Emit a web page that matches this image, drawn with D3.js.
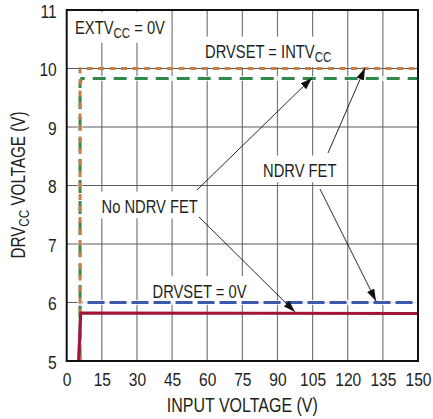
<!DOCTYPE html>
<html><head><meta charset="utf-8">
<script src="https://cdn.jsdelivr.net/npm/d3@7/dist/d3.min.js"></script>
<style>
body{margin:0;background:#fff;}
text{font-family:"Liberation Sans",Arial,sans-serif;fill:#231f20;}
</style></head>
<body>
<svg id="c" width="433" height="419"></svg>
<script>
// ---- data ----
const xTicks = [0,15,30,45,60,75,90,105,120,135,150];
const yTicks = [5,6,7,8,9,10,11];
const orangeX = [5.7,5.7,150];      // DRVSET = INTVCC, NDRV FET
const orangeY = [5,10,10];
const greenX  = [5.7,5.7,6.3,150];  // DRVSET = INTVCC, No NDRV FET
const greenY  = [5,9.74,9.83,9.83];
const blueX   = [5.2,5.7,150];      // DRVSET = 0V, NDRV FET
const blueY   = [5,6.0,6.0];
const redX    = [5.1,6.0,150];      // DRVSET = 0V, No NDRV FET
const redY    = [5,5.82,5.81];

const SX = 0.82; // condensed look
const svg = d3.select("#c");
const L=66.7,R=418,T=10,B=361;
const x = d3.scaleLinear().domain([0,150]).range([L,R]);
const y = d3.scaleLinear().domain([5,11]).range([B,T]);

// grid
svg.append("g").selectAll("line").data(xTicks.slice(1,-1)).join("line")
  .attr("x1",d=>x(d)).attr("x2",d=>x(d)).attr("y1",T).attr("y2",B)
  .attr("stroke","#7a7a7a").attr("stroke-width",1.2);
svg.append("g").selectAll("line").data(yTicks.slice(1,-1)).join("line")
  .attr("y1",d=>y(d)).attr("y2",d=>y(d)).attr("x1",L).attr("x2",R)
  .attr("stroke","#5a5a5a").attr("stroke-width",1.2);

// axes labels via d3 axes
const xa = svg.append("g").attr("transform",`translate(0,${B})`)
  .call(d3.axisBottom(x).tickValues(xTicks).tickSize(0).tickPadding(11.5));
xa.select(".domain").remove();
xa.selectAll("text").attr("font-size",19).style("font-family",null).attr("fill","#231f20")
  .attr("transform",`scale(${SX},1)`);
const ya = svg.append("g").attr("transform",`translate(${L},0)`)
  .call(d3.axisLeft(y).tickValues(yTicks).tickFormat(d3.format("d")).tickSize(0));
ya.select(".domain").remove();
ya.selectAll("text").attr("font-size",19).style("font-family",null).attr("fill","#231f20")
  .attr("x",-10/SX).attr("dy","0.37em").attr("transform",`scale(${SX},1)`);

// text labels with white background
function label(px,py,parts){
  const g = svg.append("g").attr("transform",`translate(${px},${py}) scale(${SX},1)`);
  const t = g.append("text").attr("x",0).attr("y",0).attr("font-size",18);
  parts.forEach(p=>{
    if(p.sub){ t.append("tspan").text(p.t).attr("font-size",14).attr("dy",4); }
    else { t.append("tspan").text(p.t).attr("dy",p.after? -4:0); }
  });
  const bb = t.node().getBBox();
  g.insert("rect","text").attr("x",bb.x-4).attr("y",bb.y-5).attr("width",bb.width+8).attr("height",bb.height+7).attr("fill","#fff");
  return g;
}
label(75,33.5,[{t:"EXTV"},{t:"CC",sub:true},{t:" = 0V",after:true}]);
label(205,58,[{t:"DRVSET = INTV"},{t:"CC",sub:true}]);
label(263,177,[{t:"NDRV FET"}]);
label(101.5,213,[{t:"No NDRV FET"}]);
label(152.5,297.5,[{t:"DRVSET = 0V"}]);

// series
const line = d3.line().x(d=>x(d[0])).y(d=>y(d[1]));
function series(xs,ys,color,dash,halo){
  const pts = xs.map((v,i)=>[v,ys[i]]);
  if(halo) svg.append("path").attr("d",line(pts)).attr("fill","none").attr("stroke","#fff").attr("stroke-width",5).attr("stroke-opacity",0.8);
  svg.append("path").attr("d",line(pts)).attr("fill","none").attr("stroke",color).attr("stroke-width",3)
    .attr("stroke-dasharray",dash||null).attr("stroke-linejoin","round");
}
series(blueX,blueY,"#3d59a9","17,5",true);
series(greenX,greenY,"#2f8a4c","13,8",true);
series(orangeX,orangeY,"#c97f44","6,5.5",false);
series(redX,redY,"#a3143c",null,false);

// arrows
svg.append("defs").append("marker").attr("id","ah").attr("viewBox","0 0 12 8")
  .attr("refX",12).attr("refY",4).attr("markerWidth",12).attr("markerHeight",8)
  .attr("markerUnits","userSpaceOnUse").attr("orient","auto")
  .append("path").attr("d","M0,0L12,4L0,8Z").attr("fill","#111");
const arrows = [
  [[197,190],[312,78]],
  [[199,217],[295,312]],
  [[328,153],[365,68]],
  [[320,189],[376,301]]
];
svg.append("g").selectAll("line").data(arrows).join("line")
  .attr("x1",d=>d[0][0]).attr("y1",d=>d[0][1]).attr("x2",d=>d[1][0]).attr("y2",d=>d[1][1])
  .attr("stroke","#111").attr("stroke-width",0.9).attr("marker-end","url(#ah)");

// frame
svg.append("rect").attr("x",L).attr("y",T).attr("width",R-L).attr("height",B-T)
  .attr("fill","none").attr("stroke","#111").attr("stroke-width",2);

// axis titles
svg.append("text").attr("transform",`translate(${(L+R)/2},412) scale(${SX},1)`)
  .attr("text-anchor","middle").attr("font-size",19.5).text("INPUT VOLTAGE (V)");
const yt = svg.append("text").attr("transform",`translate(24.5,185) rotate(-90) scale(0.78,1)`).attr("text-anchor","middle").attr("font-size",19.5);
yt.append("tspan").text("DRV");
yt.append("tspan").text("CC").attr("font-size",15).attr("dy",4);
yt.append("tspan").text(" VOLTAGE (V)").attr("dy",-4);
</script>
</body></html>
